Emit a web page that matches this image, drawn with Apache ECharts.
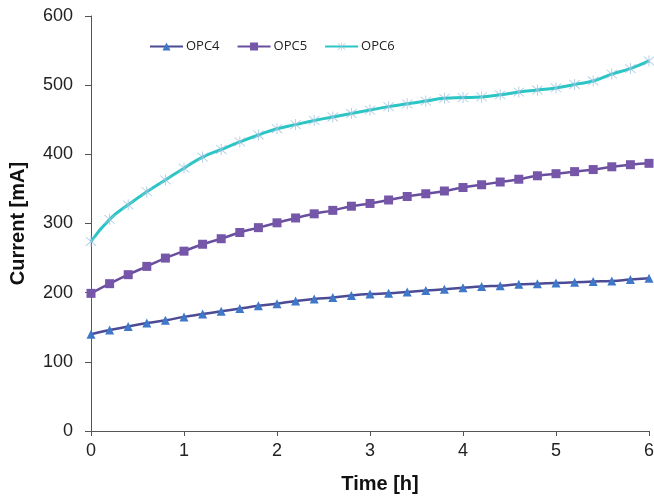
<!DOCTYPE html>
<html>
<head>
<meta charset="utf-8">
<script src="https://cdn.jsdelivr.net/npm/echarts@6/dist/echarts.min.js"></script>
<style>html,body{margin:0;padding:0;background:#fff;}#c{width:654px;height:497px;}</style>
</head>
<body>
<div id="c"></div>
<script>
var times = [0,0.2,0.4,0.6,0.8,1.0,1.2,1.4,1.6,1.8,2.0,2.2,2.4,2.6,2.8,3.0,3.2,3.4,3.6,3.8,4.0,4.2,4.4,4.6,4.8,5.0,5.2,5.4,5.6,5.8,6.0];
var opc4 = [140,146,151,156,160,165,169,173,177,181,184,188,191,193,196,198,199,201,203,205,207,209,210,212,213,214,215,216,217,219,221];
var opc5 = [199,213,226,238,250,260,270,278,287,294,301,308,314,319,325,329,334,339,343,347,352,356,360,364,369,372,375,378,382,385,387];
var opc6 = [274,306,327,346,363,380,396,407,418,428,437,443,449,454,459,464,469,473,477,481,482,483,486,490,493,496,501,506,516,524,535];
var seriesNames = ['OPC4','OPC5','OPC6'];

function pairs(v){ return times.map(function(t,i){ return [t, v[i]]; }); }
var star = 'path://M9.3 0 L10.7 0 L10.7 20 L9.3 20 Z M1.5 2.5 L2.5 1.5 L18.5 17.5 L17.5 18.5 Z M17.5 1.5 L18.5 2.5 L2.5 18.5 L1.5 17.5 Z';

var chart = echarts.init(document.getElementById('c'), null, {renderer:'canvas'});
chart.setOption({
  backgroundColor:'#fff',
  animation:false,
  grid:{left:91, right:5, top:16, bottom:66, containLabel:false, outerBoundsMode:'none'},
  legend:{
    left:144, top:35, itemWidth:33, itemHeight:10, itemGap:17,
    textStyle:{fontFamily:'Open Sans', fontSize:13, color:'#222', padding:[0,0,0,-2]},
    data:seriesNames
  },
  xAxis:{
    type:'value', min:0, max:6, interval:1,
    axisLine:{lineStyle:{color:'#555', width:1}},
    axisTick:{show:true, length:5, lineStyle:{color:'#555'}},
    axisLabel:{fontFamily:'Liberation Sans', fontSize:18, color:'#222', margin:11},
    splitLine:{show:false},
    name:'Time [h]', nameLocation:'middle', nameGap:43,
    nameTextStyle:{fontFamily:'Liberation Sans', fontSize:20, fontWeight:'bold', color:'#111', padding:[0,0,0,20]}
  },
  yAxis:{
    type:'value', min:0, max:600, interval:100,
    axisLine:{show:true, lineStyle:{color:'#555', width:1}},
    axisTick:{show:true, length:6, lineStyle:{color:'#555'}},
    axisLabel:{fontFamily:'Liberation Sans', fontSize:18, color:'#222', margin:18},
    splitLine:{show:false},
    name:'Current [mA]', nameLocation:'middle', nameGap:63, nameRotate:90,
    nameTextStyle:{fontFamily:'Liberation Sans', fontSize:20, fontWeight:'bold', color:'#111'}
  },
  series:[
    {name:seriesNames[0], type:'line', smooth:true, data:pairs(opc4),
     lineStyle:{color:'#4B4B96', width:2.5},
     symbol:'triangle', symbolSize:9,
     itemStyle:{color:'#3F78C8'}},
    {name:seriesNames[1], type:'line', smooth:true, data:pairs(opc5),
     lineStyle:{color:'#6A4E9E', width:2.5},
     symbol:'rect', symbolSize:9,
     itemStyle:{color:'#7556A8'}},
    {name:seriesNames[2], type:'line', smooth:true, data:pairs(opc6),
     lineStyle:{color:'#2CC5C5', width:3},
     symbol:star, symbolSize:11,
     itemStyle:{color:'#9CC2DE', opacity:0.85}}
  ]
});
</script>
</body>
</html>
